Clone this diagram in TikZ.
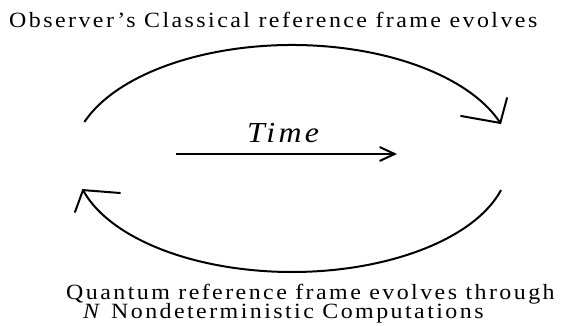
\documentclass[tikz,border=0pt]{standalone}
\usepackage{fontspec}
\setmainfont{Liberation Serif}[LetterSpace=11.25,FakeStretch=1.1]
\usetikzlibrary{arrows.meta}
\begin{document}
\begin{tikzpicture}[x=1pt,y=1pt,
  curve/.style={line width=2pt},
  barb/.style={line width=2pt, line cap=round, line join=miter},
  lbl/.style={anchor=base west, inner sep=0pt, font=\fontsize{21.75}{21.75}\selectfont},
  timelbl/.style={anchor=base west, inner sep=0pt, font=\fontsize{29}{29}\selectfont\itshape}]
\useasboundingbox (0,0) rectangle (562,326);
% texts
\node[lbl] (top) at (9,298) {Observer’s Classical reference frame evolves};
\node[lbl] (bot) at (66,26) {\vtop{\baselineskip=18.5pt\lineskiplimit=-\maxdimen
  \hbox{Quantum reference frame evolves through}
  \hbox{\hspace*{17pt}\textit{N} Nondeterministic Computations}}};
\node[timelbl] (time) at (247,183) {Time};
% time arrow
\coordinate (ts) at (176,172);
\coordinate (te) at (397,172);
\draw[line width=2pt, -{Straight Barb[length=15pt,width=14pt]}] (ts) -- (te);
% upper arc
\coordinate (tl) at (84.4,204.0);
\draw[curve] (tl) arc[start angle=160.7, end angle=18.8, x radius=220, y radius=115] coordinate (tr);
\coordinate (tra) at (461,210);
\coordinate (trb) at (507,228);
\draw[barb] (tra) -- (tr) -- (trb);
% lower arc
\coordinate (br) at (501.0,135.9);
\draw[curve] (br) arc[start angle=-15.6, end angle=-164.4, x radius=217, y radius=112] coordinate (bl);
\coordinate (bla) at (120,133);
\coordinate (blb) at (75,114);
\draw[barb] (bla) -- (bl) -- (blb);
\end{tikzpicture}
\end{document}
